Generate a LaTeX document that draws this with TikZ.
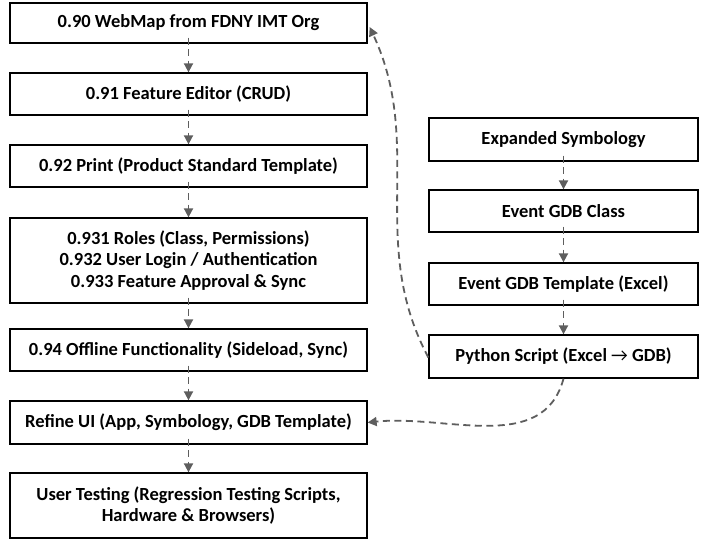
\documentclass[tikz,border=0pt]{standalone}
\usepackage{fontspec}
\setmainfont{Carlito}
\usetikzlibrary{arrows.meta}
\definecolor{conn}{HTML}{5E5E5E}
\tikzset{
  box/.style={draw=black, line width=1.3pt, fill=white, rectangle, align=center, inner sep=0pt,
    font=\bfseries\fontsize{18.5}{21.5}\selectfont},
  lbox/.style={box, minimum width=357pt},
  rbox/.style={box, minimum width=269pt},
  conn/.style={draw=conn, line width=1.8pt, dash pattern=on 7pt off 4.5pt,
    -{Triangle[length=9pt,width=9pt]}},
}
\begin{document}
\begin{tikzpicture}[x=1pt,y=-1pt]
\useasboundingbox (0,0) rectangle (711,540);
\node[lbox, minimum height=40pt] (b1) at (188.5,23) {0.90 WebMap from FDNY IMT Org};
\node[lbox, minimum height=42pt] (b2) at (188.5,94) {0.91 Feature Editor (CRUD)};
\node[lbox, minimum height=42pt] (b3) at (188.5,166) {0.92 Print (Product Standard Template)};
\node[lbox, minimum height=85pt] (b4) at (188.5,260.5) {0.931 Roles (Class, Permissions)\\0.932 User Login / Authentication\\0.933 Feature Approval \& Sync};
\node[lbox, minimum height=42pt] (b5) at (188.5,350) {0.94 Offline Functionality (Sideload, Sync)};
\node[lbox, minimum height=43pt] (b6) at (188.5,422.5) {Refine UI (App, Symbology, GDB Template)};
\node[lbox, minimum height=65pt] (b7) at (188.5,505.5) {User Testing (Regression Testing Scripts,\\Hardware \& Browsers)};
\node[rbox, minimum height=43pt] (r1) at (563.5,139.5) {Expanded Symbology};
\node[rbox, minimum height=42pt] (r2) at (563.5,211) {Event GDB Class};
\node[rbox, minimum height=42pt] (r3) at (563.5,284) {Event GDB Template (Excel)};
\node[rbox, minimum height=43pt] (r4) at (563.5,356.5) {Python Script (Excel {\mdseries→} GDB)};
\foreach \a/\b in {b1/b2,b2/b3,b3/b4,b4/b5,b5/b6,b6/b7,r1/r2,r2/r3,r3/r4}{
  \draw[conn] ([yshift=6pt]\a.south) -- (\b.north);
}
\draw[conn] ([yshift=-1pt]r4.west) to[out=118, in=-65] ([xshift=2pt,yshift=-4pt]b1.east);
\draw[conn] (r4.south) to[out=-105, in=6] (b6.east);
\end{tikzpicture}
\end{document}
